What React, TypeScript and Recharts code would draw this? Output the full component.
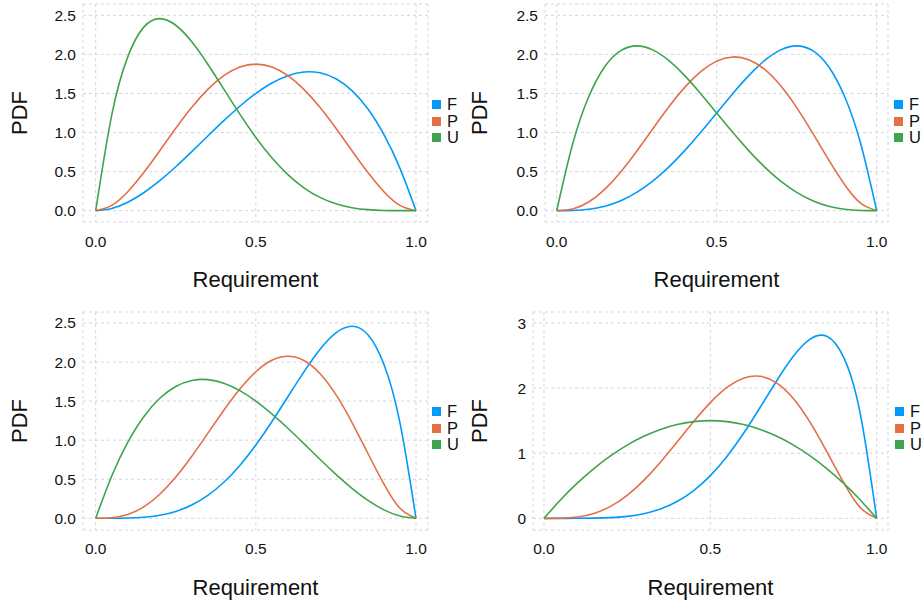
import React from 'react';
import { LineChart, Line, XAxis, YAxis, CartesianGrid, Legend } from 'recharts';

// x positions (Requirement)
const X = [0, 0.05, 0.1, 0.15, 0.2, 0.25, 0.3, 0.35, 0.4, 0.45, 0.5, 0.55, 0.6, 0.65, 0.7, 0.75, 0.8, 0.85, 0.9, 0.95, 1];

// Panel 1 (top-left)
const P1_F = [0, 0.0285, 0.108, 0.2295, 0.384, 0.5625, 0.756, 0.9555, 1.152, 1.3365, 1.5, 1.6335, 1.728, 1.7745, 1.764, 1.6875, 1.536, 1.3005, 0.972, 0.5415, 0];
const P1_P = [0, 0.0677, 0.243, 0.4877, 0.768, 1.0547, 1.323, 1.5527, 1.728, 1.8377, 1.875, 1.8377, 1.728, 1.5527, 1.323, 1.0547, 0.768, 0.4877, 0.243, 0.0677, 0];
const P1_U = [0, 1.2218, 1.9683, 2.349, 2.4576, 2.373, 2.1609, 1.8743, 1.5552, 1.2353, 0.9375, 0.6766, 0.4608, 0.2926, 0.1701, 0.0879, 0.0384, 0.0129, 0.0027, 0.0002, 0];

// Panel 2 (top-right)
const P2_F = [0, 0.0024, 0.018, 0.0574, 0.128, 0.2344, 0.378, 0.5574, 0.768, 1.0024, 1.25, 1.4974, 1.728, 1.9224, 2.058, 2.1094, 2.048, 1.8424, 1.458, 0.8574, 0];
const P2_P = [0, 0.0219, 0.1109, 0.2727, 0.4959, 0.7614, 1.0462, 1.3262, 1.5778, 1.7798, 1.9141, 1.9676, 1.9325, 1.8073, 1.5981, 1.3187, 0.9917, 0.6491, 0.3328, 0.0952, 0];
const P2_U = [0, 0.8574, 1.458, 1.8424, 2.048, 2.1094, 2.058, 1.9224, 1.728, 1.4974, 1.25, 1.0024, 0.768, 0.5574, 0.378, 0.2344, 0.128, 0.0574, 0.018, 0.0024, 0];

// Panel 3 (bottom-left)
const P3_F = [0, 0.0002, 0.0027, 0.0129, 0.0384, 0.0879, 0.1701, 0.2926, 0.4608, 0.6766, 0.9375, 1.2353, 1.5552, 1.8743, 2.1609, 2.373, 2.4576, 2.349, 1.9683, 1.2218, 0];
const P3_P = [0, 0.0068, 0.0486, 0.1463, 0.3072, 0.5273, 0.7938, 1.0869, 1.3824, 1.6539, 1.875, 2.0215, 2.0736, 2.0185, 1.8522, 1.582, 1.2288, 0.8291, 0.4374, 0.1286, 0];
const P3_U = [0, 0.5415, 0.972, 1.3005, 1.536, 1.6875, 1.764, 1.7745, 1.728, 1.6335, 1.5, 1.3365, 1.152, 0.9555, 0.756, 0.5625, 0.384, 0.2295, 0.108, 0.0285, 0];

// Panel 4 (bottom-right)
const P4_F = [0, 0, 0.0004, 0.0027, 0.0108, 0.0308, 0.0714, 0.1434, 0.2581, 0.4263, 0.6563, 0.9512, 1.3064, 1.7056, 2.1177, 2.4917, 2.7525, 2.7953, 2.4801, 1.6249, 0];
const P4_P = [0, 0.002, 0.0206, 0.076, 0.1842, 0.3535, 0.5829, 0.862, 1.1721, 1.4874, 1.7774, 2.0098, 2.1533, 2.1817, 2.0775, 1.8368, 1.4734, 1.0247, 0.5563, 0.1681, 0];
const P4_U = [0, 0.285, 0.54, 0.765, 0.96, 1.125, 1.26, 1.365, 1.44, 1.485, 1.5, 1.485, 1.44, 1.365, 1.26, 1.125, 0.96, 0.765, 0.54, 0.285, 0];

const SERIES = ['F', 'P', 'U'];
const COLORS = ['#009AFA', '#E36F47', '#3EA44E'];
const X_TICKS = [0, 0.5, 1];
const Y_TICKS_A = [0, 0.5, 1, 1.5, 2, 2.5];
const Y_TICKS_B = [0, 1, 2, 3];

const FONT = '"Liberation Sans", Arial, Helvetica, sans-serif';
const GRID = '#d4d4e4';
const TEXT = '#111111';

function build(f: number[], p: number[], u: number[]) {
  return X.map((x, i) => ({ x, F: f[i], P: p[i], U: u[i] }));
}

const LegendContent = (props: any) => {
  const payload = props.payload || [];
  return (
    <div style={{ fontFamily: FONT, fontSize: 16.5, color: TEXT }}>
      {payload.map((e: any) => (
        <div key={e.value} style={{ display: 'flex', alignItems: 'center', height: 16.7 }}>
          <div style={{ width: 9, height: 9, background: e.color, marginRight: 6 }} />
          <span style={{ lineHeight: '16.7px' }}>{e.value}</span>
        </div>
      ))}
    </div>
  );
};

type PanelProps = {
  left: number; top: number; width: number; height: number;
  data: any[];
  mTop: number; mRight: number; yw: number; xh: number;
  xDomain: [number, number]; yDomain: [number, number];
  yTicks: number[]; yFmt: (v: number) => string;
  legendLeft: number; legendTop: number;
  xLabelOffset: number; xTickMargin: number;
};

function Panel(p: PanelProps) {
  return (
    <div style={{ position: 'absolute', left: p.left, top: p.top, width: p.width, height: p.height }}>
      <LineChart width={p.width} height={p.height} data={p.data}
        margin={{ top: p.mTop, right: p.mRight, bottom: 0, left: 0 }}>
        <CartesianGrid stroke={GRID} strokeDasharray="3 3" strokeWidth={1} />
        <XAxis dataKey="x" type="number" domain={p.xDomain} ticks={X_TICKS} allowDataOverflow
          tickFormatter={(v: number) => v.toFixed(1)} axisLine={false} tickLine={false}
          height={p.xh} tickMargin={p.xTickMargin} interval={0}
          tick={{ fill: TEXT, fontSize: 15.5, fontFamily: FONT }}
          label={{ value: 'Requirement', position: 'insideBottom', offset: p.xLabelOffset, fill: TEXT, fontSize: 22, fontFamily: FONT }} />
        <YAxis type="number" domain={p.yDomain} ticks={p.yTicks} allowDataOverflow
          tickFormatter={p.yFmt} axisLine={false} tickLine={false} width={p.yw} tickMargin={1} interval={0}
          tick={{ fill: TEXT, fontSize: 15.5, fontFamily: FONT }}
          label={{ value: 'PDF', angle: -90, position: 'insideLeft', offset: 19.5, fill: TEXT, fontSize: 22, fontFamily: FONT, style: { textAnchor: 'middle' } }} />
        {SERIES.map((s, i) => (
          <Line key={s} dataKey={s} type="natural" stroke={COLORS[i]} strokeWidth={1.6}
            dot={false} activeDot={false} isAnimationActive={false} legendType="square" />
        ))}
        <Legend layout="horizontal" verticalAlign="middle" align="center" content={LegendContent}
          wrapperStyle={{ position: 'absolute', left: p.legendLeft, top: p.legendTop, width: 30, height: 52 }} />
      </LineChart>
    </div>
  );
}

const fmt1 = (v: number) => v.toFixed(1);
const fmt0 = (v: number) => String(Math.round(v));

export default function App() {
  return (
    <div style={{ position: 'absolute', left: 0, top: 0, width: 923, height: 606, background: '#fff', overflow: 'hidden' }}>
      <Panel left={0} top={0} width={460} height={300} data={build(P1_F, P1_P, P1_U)}
        mTop={4} mRight={32} yw={83} xh={78}
        xDomain={[-0.0397, 1.0375]} yDomain={[-0.145, 2.645]} yTicks={Y_TICKS_A} yFmt={fmt1}
        legendLeft={432} legendTop={96} xLabelOffset={13} xTickMargin={8} />
      <Panel left={460} top={0} width={463} height={300} data={build(P2_F, P2_P, P2_U)}
        mTop={4} mRight={35} yw={85} xh={78}
        xDomain={[-0.0366, 1.0353]} yDomain={[-0.145, 2.645]} yTicks={Y_TICKS_A} yFmt={fmt1}
        legendLeft={434} legendTop={96} xLabelOffset={13} xTickMargin={8} />
      <Panel left={0} top={300} width={460} height={306} data={build(P3_F, P3_P, P3_U)}
        mTop={12} mRight={32} yw={83} xh={76}
        xDomain={[-0.0397, 1.0375]} yDomain={[-0.15, 2.64]} yTicks={Y_TICKS_A} yFmt={fmt1}
        legendLeft={432} legendTop={103} xLabelOffset={11} xTickMargin={7} />
      <Panel left={460} top={300} width={463} height={306} data={build(P4_F, P4_P, P4_U)}
        mTop={12} mRight={35} yw={73} xh={76}
        xDomain={[-0.033, 1.034]} yDomain={[-0.179, 3.169]} yTicks={Y_TICKS_B} yFmt={fmt0}
        legendLeft={435} legendTop={103} xLabelOffset={11} xTickMargin={7} />
    </div>
  );
}
